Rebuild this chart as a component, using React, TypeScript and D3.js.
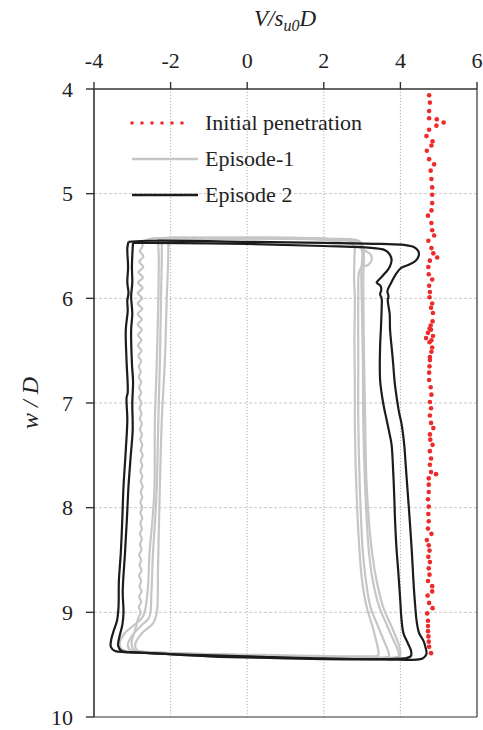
import React from "react";
import * as d3 from "d3";

// ---------- data ----------
const xTicks = [-4, -2, 0, 2, 4, 6];
const yTicks = [4, 5, 6, 7, 8, 9, 10];

// Initial penetration (red dots): depth w/D and V/su0D
const dotDepth = [4.06, 4.13, 4.21, 4.28, 4.29, 4.32, 4.35, 4.39, 4.45, 4.5, 4.54, 4.59, 4.67, 4.72, 4.78, 4.86, 4.94, 5.01, 5.09, 5.16, 5.21, 5.28, 5.35, 5.4, 5.45, 5.52, 5.57, 5.61, 5.64, 5.7, 5.77, 5.82, 5.88, 5.94, 5.99, 6.05, 6.09, 6.14, 6.22, 6.26, 6.29, 6.3, 6.33, 6.36, 6.38, 6.4, 6.42, 6.47, 6.51, 6.56, 6.59, 6.65, 6.71, 6.78, 6.85, 6.92, 6.99, 7.05, 7.12, 7.19, 7.24, 7.3, 7.35, 7.4, 7.46, 7.53, 7.59, 7.66, 7.68, 7.72, 7.78, 7.85, 7.92, 7.99, 8.06, 8.13, 8.2, 8.25, 8.31, 8.36, 8.41, 8.47, 8.52, 8.58, 8.64, 8.7, 8.75, 8.8, 8.84, 8.91, 8.96, 9.01, 9.08, 9.13, 9.18, 9.23, 9.28, 9.33, 9.39];
const dotV = [4.75, 4.77, 4.75, 4.75, 4.95, 5.13, 4.94, 4.75, 4.68, 4.84, 4.81, 4.69, 4.75, 4.88, 4.79, 4.81, 4.83, 4.83, 4.83, 4.81, 4.72, 4.81, 4.83, 4.88, 4.73, 4.81, 4.86, 4.96, 4.77, 4.73, 4.74, 4.83, 4.75, 4.77, 4.76, 4.83, 4.8, 4.85, 4.84, 4.79, 4.76, 4.8, 4.72, 4.85, 4.67, 4.81, 4.76, 4.83, 4.81, 4.77, 4.77, 4.76, 4.75, 4.75, 4.79, 4.81, 4.77, 4.8, 4.77, 4.8, 4.86, 4.77, 4.78, 4.84, 4.77, 4.8, 4.77, 4.8, 4.93, 4.74, 4.74, 4.74, 4.72, 4.74, 4.73, 4.74, 4.72, 4.81, 4.69, 4.74, 4.76, 4.73, 4.77, 4.74, 4.76, 4.72, 4.83, 4.83, 4.71, 4.75, 4.84, 4.7, 4.72, 4.72, 4.72, 4.73, 4.74, 4.75, 4.8];

// Episode-1 cycles: [V/su0D, w/D]
const ep1Cycle1: [number, number][] = [
  [-2.76, 5.46], [-2.5, 5.43], [0, 5.43], [2.0, 5.44], [2.7, 5.46], [2.8, 5.5], [2.8, 5.6], [2.79, 5.8], [2.81, 6.0], [2.8, 6.4], [2.81, 6.8], [2.81, 7.2], [2.83, 7.6], [2.87, 8.0], [2.93, 8.4], [3.0, 8.7], [3.12, 8.95], [3.26, 9.12], [3.36, 9.26], [3.42, 9.36], [3.42, 9.41],
  [3.0, 9.42], [1.0, 9.41], [-1.0, 9.4], [-2.5, 9.38], [-2.95, 9.36], [-3.02, 9.3], [-2.92, 9.16], [-2.84, 9.05],
  [-2.78, 9.0], [-2.83, 8.95], [-2.77, 8.9], [-2.82, 8.85], [-2.76, 8.8], [-2.81, 8.75], [-2.77, 8.7], [-2.82, 8.65], [-2.76, 8.6], [-2.81, 8.55], [-2.77, 8.5], [-2.82, 8.45], [-2.76, 8.4], [-2.8, 8.35], [-2.75, 8.3], [-2.8, 8.25], [-2.75, 8.2], [-2.79, 8.15], [-2.74, 8.1], [-2.79, 8.05], [-2.74, 8.0], [-2.79, 7.95], [-2.74, 7.9], [-2.78, 7.85], [-2.73, 7.8], [-2.78, 7.75], [-2.74, 7.7], [-2.79, 7.65], [-2.74, 7.6], [-2.78, 7.55], [-2.73, 7.5], [-2.78, 7.45], [-2.74, 7.4], [-2.79, 7.35], [-2.75, 7.3], [-2.8, 7.25], [-2.75, 7.2], [-2.8, 7.15], [-2.76, 7.1], [-2.81, 7.05], [-2.76, 7.0], [-2.82, 6.95], [-2.77, 6.9], [-2.82, 6.85], [-2.77, 6.8], [-2.83, 6.75], [-2.78, 6.7], [-2.83, 6.65], [-2.77, 6.6], [-2.84, 6.55], [-2.76, 6.5], [-2.85, 6.45], [-2.76, 6.4], [-2.85, 6.35], [-2.75, 6.3], [-2.86, 6.25], [-2.75, 6.2], [-2.86, 6.15], [-2.74, 6.1], [-2.86, 6.05], [-2.74, 6.0], [-2.86, 5.95], [-2.73, 5.9], [-2.85, 5.85], [-2.72, 5.8], [-2.84, 5.75], [-2.71, 5.7], [-2.82, 5.65], [-2.71, 5.6], [-2.8, 5.55], [-2.73, 5.5], [-2.76, 5.46],
];
const ep1Cycle2: [number, number][] = [
  [-2.33, 5.44], [0, 5.43], [2.0, 5.44], [2.85, 5.5], [3.1, 5.55], [3.22, 5.58], [3.25, 5.63], [3.16, 5.68], [2.99, 5.7], [2.92, 5.75], [2.9, 6.0], [2.9, 6.6], [2.9, 7.16], [2.94, 7.8], [3.02, 8.43], [3.1, 8.7], [3.22, 8.95], [3.4, 9.12], [3.58, 9.28], [3.68, 9.37], [3.7, 9.42],
  [3.0, 9.43], [1.0, 9.42], [-1.0, 9.41], [-2.6, 9.39], [-3.25, 9.36], [-3.33, 9.31], [-3.2, 9.2], [-2.95, 9.12], [-2.72, 9.04], [-2.6, 8.8], [-2.55, 8.43], [-2.47, 8.1], [-2.42, 7.8], [-2.41, 7.16], [-2.36, 6.6], [-2.32, 6.0], [-2.31, 5.6], [-2.33, 5.44],
];
const ep1Cycle3: [number, number][] = [
  [-2.23, 5.43], [0, 5.42], [2.0, 5.43], [2.9, 5.47], [3.0, 5.55], [2.98, 5.75], [2.99, 6.0], [3.02, 6.6], [3.03, 7.16], [3.08, 7.8], [3.18, 8.43], [3.28, 8.7], [3.45, 8.95], [3.62, 9.1], [3.8, 9.25], [3.92, 9.35], [3.95, 9.42],
  [3.0, 9.43], [1.0, 9.42], [-1.0, 9.4], [-2.6, 9.38], [-3.05, 9.36], [-3.12, 9.31], [-3.0, 9.22], [-2.75, 9.12], [-2.56, 9.05], [-2.5, 8.8], [-2.46, 8.43], [-2.4, 8.1], [-2.36, 7.8], [-2.32, 7.16], [-2.28, 6.6], [-2.25, 6.0], [-2.23, 5.6], [-2.23, 5.43],
];
const ep1Cycle4: [number, number][] = [
  [-2.06, 5.42], [0, 5.42], [2.0, 5.43], [2.95, 5.46], [3.04, 5.55], [3.03, 5.8], [3.04, 6.3], [3.08, 7.16], [3.12, 7.8], [3.26, 8.43], [3.38, 8.7], [3.55, 8.95], [3.75, 9.12], [3.95, 9.3], [4.0, 9.38], [3.98, 9.42],
  [3.0, 9.43], [1.0, 9.42], [-1.0, 9.4], [-2.6, 9.38], [-2.88, 9.36], [-2.92, 9.3], [-2.75, 9.2], [-2.45, 9.1], [-2.36, 9.0], [-2.33, 8.6], [-2.32, 8.43], [-2.3, 8.1], [-2.28, 7.8], [-2.23, 7.16], [-2.15, 6.6], [-2.1, 6.0], [-2.06, 5.6], [-2.06, 5.42],
];

// Episode 2 cycles
const ep2Cycle1: [number, number][] = [
  [-3.1, 5.46], [-2.5, 5.45], [0, 5.46], [2.0, 5.47], [3.5, 5.48], [4.1, 5.49], [4.35, 5.51], [4.47, 5.55], [4.48, 5.59], [4.4, 5.64], [4.22, 5.68], [4.02, 5.71], [3.88, 5.77], [3.76, 5.85], [3.66, 5.93], [3.69, 5.98], [3.67, 6.02], [3.72, 6.15], [3.73, 6.3], [3.78, 6.5], [3.81, 6.62], [3.85, 6.8], [3.9, 6.94], [3.96, 7.08], [4.03, 7.2], [4.1, 7.4], [4.14, 7.6], [4.2, 7.9], [4.24, 8.1], [4.3, 8.43], [4.34, 8.7], [4.38, 8.91], [4.43, 9.1], [4.49, 9.2], [4.6, 9.27], [4.66, 9.34], [4.68, 9.4], [4.58, 9.44],
  [3.5, 9.45], [1.0, 9.44], [-1.0, 9.42], [-2.5, 9.39], [-3.2, 9.38], [-3.45, 9.37], [-3.56, 9.33], [-3.55, 9.26], [-3.48, 9.17], [-3.4, 9.08], [-3.36, 8.95], [-3.35, 8.7], [-3.3, 8.43], [-3.26, 8.1], [-3.23, 7.8], [-3.17, 7.45], [-3.13, 7.16], [-3.15, 6.95], [-3.12, 6.9], [-3.15, 6.6], [-3.17, 6.3], [-3.12, 6.12], [-3.13, 6.02], [-3.1, 5.95], [-3.13, 5.85], [-3.11, 5.7], [-3.13, 5.52], [-3.1, 5.46],
];
const ep2Cycle2: [number, number][] = [
  [-2.98, 5.47], [-2.5, 5.47], [0, 5.48], [2.0, 5.5], [3.3, 5.52], [3.6, 5.54], [3.72, 5.58], [3.77, 5.63], [3.72, 5.7], [3.55, 5.78], [3.42, 5.83], [3.38, 5.85], [3.48, 5.88], [3.5, 5.92], [3.47, 5.96], [3.51, 6.0], [3.51, 6.1], [3.49, 6.3], [3.47, 6.46], [3.47, 6.78], [3.55, 7.0], [3.64, 7.16], [3.72, 7.3], [3.77, 7.4], [3.81, 7.64], [3.84, 7.9], [3.86, 8.12], [3.9, 8.4], [3.94, 8.59], [3.99, 8.85], [4.03, 9.07], [4.08, 9.2], [4.2, 9.3], [4.28, 9.37], [4.27, 9.42], [4.1, 9.44],
  [2.0, 9.44], [0, 9.42], [-2.0, 9.4], [-3.0, 9.38], [-3.28, 9.37], [-3.37, 9.32], [-3.34, 9.24], [-3.26, 9.12], [-3.23, 9.0], [-3.25, 8.8], [-3.19, 8.43], [-3.14, 8.1], [-3.1, 7.8], [-3.04, 7.5], [-2.99, 7.26], [-3.0, 7.0], [-2.98, 6.8], [-3.01, 6.62], [-3.03, 6.3], [-3.0, 6.15], [-3.03, 5.98], [-3.0, 5.85], [-3.01, 5.7], [-2.99, 5.52], [-2.98, 5.47],
];

const ep1Cycles = [ep1Cycle1, ep1Cycle2, ep1Cycle3, ep1Cycle4];
const ep2Cycles = [ep2Cycle1, ep2Cycle2];

const legendLabels = ["Initial penetration", "Episode-1", "Episode 2"];

// ---------- chart ----------
const W = 483;
const H = 730;
const FONT = "'Liberation Serif', 'Times New Roman', serif";

export default function App() {
  const x = d3.scaleLinear().domain([-4, 6]).range([94, 477]);
  const y = d3.scaleLinear().domain([4, 10]).range([89, 717]);
  const line = d3
    .line<[number, number]>()
    .x((d) => x(d[0]))
    .y((d) => y(d[1]))
    .curve(d3.curveCatmullRom.alpha(0.5));

  const [x0, x1] = x.range();
  const [y0, y1] = y.range();

  return (
    <svg
      width={W}
      height={H}
      style={{ position: "absolute", left: 0, top: 0, background: "#fff" }}
      fontFamily={FONT}
    >
      {/* grid */}
      {xTicks.slice(1, -1).map((t) => (
        <line key={"gx" + t} x1={x(t)} x2={x(t)} y1={y0} y2={y1} stroke="#9a9a9a" strokeWidth={0.8} strokeDasharray="1.2,1.8" />
      ))}
      {yTicks.slice(1, -1).map((t) => (
        <line key={"gy" + t} x1={x0} x2={x1} y1={y(t)} y2={y(t)} stroke="#bcbcbc" strokeWidth={0.8} strokeDasharray="3,2" />
      ))}

      {/* episode 1 */}
      {ep1Cycles.map((c, i) => (
        <path key={"e1" + i} d={line(c) || ""} fill="none" stroke="#c6c6c6" strokeWidth={2.2} strokeLinejoin="round" />
      ))}
      {/* episode 2 */}
      {ep2Cycles.map((c, i) => (
        <path key={"e2" + i} d={line(c) || ""} fill="none" stroke="#1c1c1c" strokeWidth={2.2} strokeLinejoin="round" />
      ))}

      {/* initial penetration */}
      {dotDepth.map((w, i) => (
        <circle key={"d" + i} cx={x(dotV[i])} cy={y(w)} r={2.3} fill="#ee2a2a" />
      ))}

      {/* frame & axes */}
      <line x1={x0} x2={x1} y1={y0} y2={y0} stroke="#333" strokeWidth={1.6} />
      <line x1={x0} x2={x0} y1={y0} y2={y1} stroke="#333" strokeWidth={1.6} />
      <line x1={x1} x2={x1} y1={y0} y2={y1} stroke="#333" strokeWidth={1.2} />
      <line x1={x0} x2={x1} y1={y1} y2={y1} stroke="#333" strokeWidth={1.2} />

      {xTicks.map((t) => (
        <g key={"tx" + t}>
          <line x1={x(t)} x2={x(t)} y1={y0 - 7} y2={y0} stroke="#333" strokeWidth={1.4} />
          <text x={x(t)} y={68} textAnchor="middle" fontSize={22} fill="#222">
            {t}
          </text>
        </g>
      ))}
      {yTicks.map((t) => (
        <g key={"ty" + t}>
          <line x1={x0 - 8} x2={x0} y1={y(t)} y2={y(t)} stroke="#333" strokeWidth={1.4} />
          <text x={73} y={y(t)} dy="0.35em" textAnchor="end" fontSize={22} fill="#222">
            {t}
          </text>
        </g>
      ))}

      {/* axis titles */}
      <text x={285} y={26} textAnchor="middle" fontSize={23} fontStyle="italic" fill="#222">
        V/s<tspan dy={5} fontSize={16}>u0</tspan>
        <tspan dy={-5}>D</tspan>
      </text>
      <text transform={`translate(38,${(y0 + y1) / 2}) rotate(-90)`} textAnchor="middle" fontSize={24} fontStyle="italic" fill="#222" style={{ whiteSpace: "pre" }}>
        w / D
      </text>

      {/* legend */}
      <line x1={132} x2={192} y1={123} y2={123} stroke="#ee2a2a" strokeWidth={3.6} strokeLinecap="round" strokeDasharray="0,10" />
      <line x1={132} x2={198} y1={159} y2={159} stroke="#c6c6c6" strokeWidth={2.6} />
      <line x1={132} x2={198} y1={195} y2={195} stroke="#1c1c1c" strokeWidth={2.6} />
      {legendLabels.map((l, i) => (
        <text key={l} x={205} y={123 + i * 36} dy="0.33em" fontSize={22} fill="#222">
          {l}
        </text>
      ))}
    </svg>
  );
}
